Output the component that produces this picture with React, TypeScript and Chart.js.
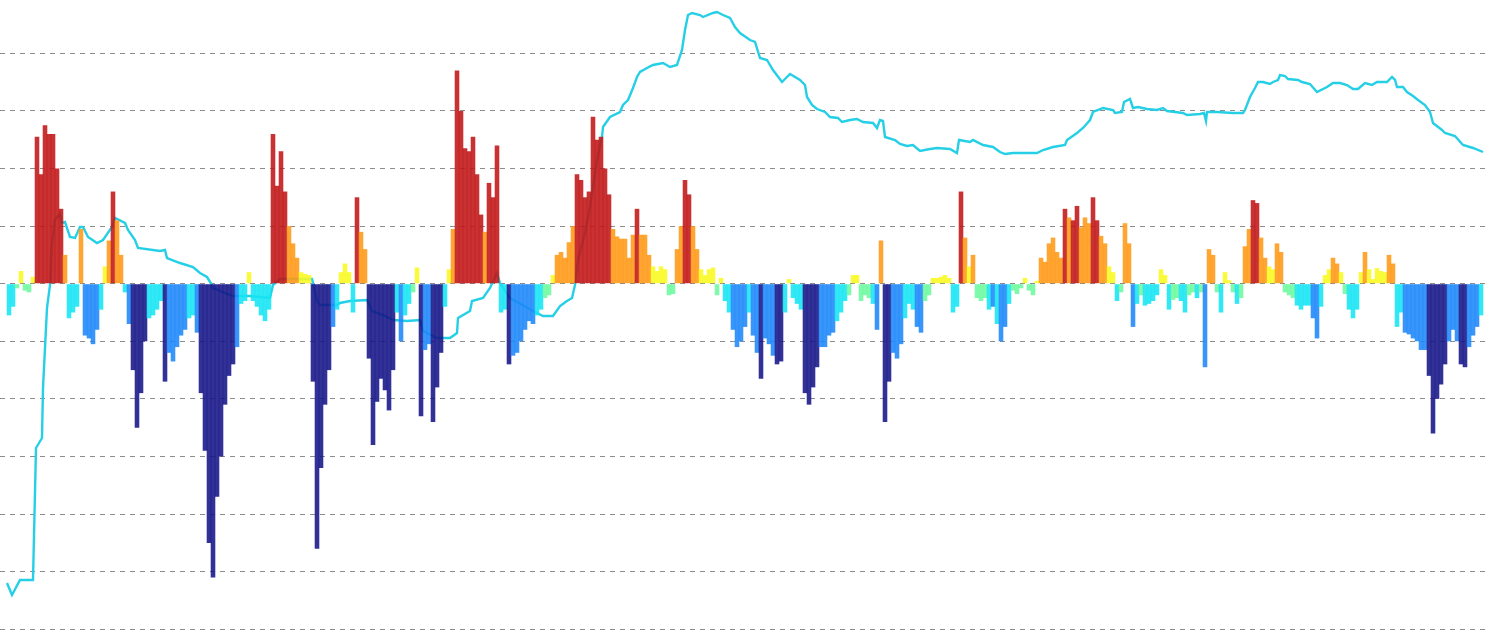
import React, { useEffect, useRef } from "react";
import { Chart, registerables } from "chart.js";

Chart.register(...registerables);

// Bar series: one value per 4-day period (grid units)
const barValues: number[] = [
  -0.55, -0.4, -0.08, 0.22, -0.12, -0.15, 0.12, 2.55, 1.9, 2.75,
  2.6, 2.6, 2.0, 1.3, 0.5, -0.6, -0.5, -0.4, 0.95, -0.9,
  -0.95, -1.05, -0.8, -0.45, 0.3, 0.75, 1.6, 1.1, 0.5, -0.15,
  -0.7, -1.5, -2.5, -1.9, -1.0, -0.6, -0.55, -0.45, -0.3, -1.7,
  -1.2, -1.35, -1.1, -0.9, -0.8, -0.6, -0.55, -0.85, -1.9, -2.9,
  -4.5, -5.1, -3.7, -3.0, -2.1, -1.6, -1.4, -1.1, -0.35, -0.3,
  0.2, -0.3, -0.4, -0.55, -0.65, -0.45, 2.6, 1.7, 2.3, 1.6,
  1.0, 0.7, 0.45, 0.2, 0.17, 0.15, -1.7, -4.6, -3.2, -2.1,
  -1.5, -0.75, -0.45, 0.2, 0.35, 0.2, -0.5, 1.5, 0.9, 0.6,
  -1.3, -2.8, -2.05, -1.65, -1.85, -2.2, -1.5, -0.5, -1.0, -0.55,
  -0.35, -0.15, 0.28, -2.3, -1.15, -1.05, -2.4, -1.8, -1.2, -0.4,
  0.25, 0.95, 3.7, 3.0, 2.35, 2.3, 2.55, 1.9, 1.2, 0.9,
  1.75, 1.5, 2.4, -0.5, -0.45, -1.4, -1.25, -1.2, -1.0, -0.8,
  -0.65, -0.7, -0.55, -0.45, -0.25, -0.2, 0.15, 0.5, 0.55, 0.45,
  0.72, 1.0, 1.9, 1.8, 1.5, 1.6, 2.9, 2.5, 2.55, 2.0,
  1.55, 0.95, 0.82, 0.78, 0.78, 0.45, 0.85, 1.3, 0.85, 0.85,
  0.5, 0.3, 0.22, 0.3, 0.25, -0.2, -0.18, 0.6, 1.0, 1.8,
  1.55, 1.0, 0.6, 0.25, 0.15, 0.25, 0.28, -0.2, 0.1, -0.3,
  -0.5, -0.8, -1.1, -1.0, -0.75, -0.5, -0.9, -1.2, -1.65, -0.95,
  -1.05, -1.25, -1.4, -1.35, -0.5, 0.08, -0.25, -0.35, -0.45, -1.9,
  -2.1, -1.8, -1.45, -1.1, -1.1, -0.9, -0.85, -0.65, -0.5, -0.3,
  -0.2, 0.15, 0.15, -0.3, -0.2, -0.25, -0.35, -0.8, 0.75, -2.4,
  -1.7, -1.2, -1.3, -1.05, -0.6, -0.35, -0.45, -0.75, -0.85, -0.3,
  -0.2, 0.1, 0.1, 0.12, 0.15, 0.1, -0.5, -0.4, 1.6, 0.8,
  0.3, 0.5, -0.25, -0.3, -0.25, -0.45, -0.4, -0.7, -1.0, -0.75,
  -0.35, -0.12, -0.18, -0.08, 0.1, -0.12, -0.2, 0.05, 0.45, 0.38,
  0.7, 0.8, 0.55, 0.45, 1.3, 1.15, 1.1, 1.35, 0.98, 1.15,
  1.05, 1.5, 1.1, 0.83, 0.7, 0.3, 0.2, -0.3, -0.15, 1.05,
  0.7, -0.75, -0.35, -0.2, -0.38, -0.35, -0.3, -0.2, 0.25, 0.15,
  -0.45, -0.28, -0.25, -0.3, -0.5, -0.2, -0.15, -0.25, -0.15, -1.45,
  0.6, 0.5, -0.15, -0.5, 0.2, 0.06, -0.15, -0.35, -0.25, 0.65,
  0.95, 1.45, 1.4, 0.8, 0.45, 0.3, 0.25, 0.7, 0.55, -0.15,
  -0.2, -0.25, -0.38, -0.45, -0.38, -0.38, -0.6, -0.95, -0.4, 0.15,
  0.25, 0.45, 0.35, 0.2, -0.18, -0.45, -0.6, -0.45, 0.2, 0.55,
  0.25, 0.08, 0.27, 0.22, 0.2, 0.5, 0.35, -0.75, -0.5, -0.85,
  -0.88, -0.95, -1.0, -1.15, -1.15, -1.6, -2.6, -2.0, -1.75, -1.4,
  -1.0, -0.8, -1.0, -1.4, -1.45, -1.1, -0.9, -0.75, -0.55,
];

// Colour class of each bar (R red, O orange, Y yellow, G light green, C cyan, B blue, N navy)
const barClasses: string = [
  "CCGYGGYRRR", "RRRROCCCOB", "BBBCYOROOC", "BNNNNCCCCN", "BBBBBCCBNN",
  "NNNNNNNBCC", "YCCCCCRRRR", "OOOYYYNNNN", "NBCYYYCROO", "NNNNNNNCBC",
  "CGYNBBNNNC", "YORRRRRRRO", "RRRCCNBBBB", "BBCCGGYOOO", "OORRRRRRRR",
  "ROOOOOOROO", "OYYYYGGOOR", "ROOYYYYGYC", "CBBBBCBBNB", "BBNNCYCCCN",
  "NNNBBBBCCC", "GYYGGGCBON", "NBBBCCCBBG", "GYYYYYCCRO", "YOGGGCBCBB",
  "CGGGYGGYOO", "OOOORORROO", "ORROOYYCGO", "OBCGCCCCYY", "CGGCCGGCGB",
  "OOGCYYGCGO", "ORROOYYOOG", "GGCCCCBBCY", "YOOYGCCCYO", "YYYYYOOCCB",
  "BBBBBNNNNN", "BBBNNBBBC",
].join("");

const classColors: Record<string, string> = {
  R: "rgba(192,22,22,0.88)",
  O: "rgba(255,153,22,0.88)",
  Y: "rgba(249,249,33,0.88)",
  G: "rgba(107,249,158,0.88)",
  C: "rgba(22,229,244,0.88)",
  B: "rgba(28,136,249,0.88)",
  N: "rgba(22,22,136,0.88)",
};

// Price line: day index and price
const lineDays: number[] = [
  0, 5, 13, 26, 29, 35, 36, 40, 43, 45, 48, 53, 55, 58, 63, 68, 73, 76, 81, 90,
  96, 105, 108, 118, 121, 128, 131, 153, 158, 160, 173, 186, 193, 200, 205, 206, 226, 243, 263, 266,
  273, 305, 310, 313, 330, 333, 343, 360, 365, 376, 386, 400, 413, 416, 430, 443, 450, 451, 463, 465,
  476, 483, 490, 493, 503, 526, 536, 546, 553, 560, 565, 568, 571, 578, 583, 590, 595, 596, 603, 613,
  616, 621, 626, 630, 633, 640, 646, 656, 663, 670, 675, 678, 681, 685, 693, 696, 706, 710, 716, 723,
  728, 733, 743, 748, 753, 760, 766, 775, 783, 793, 798, 800, 805, 810, 818, 823, 831, 835, 843, 850,
  856, 866, 870, 873, 876, 878, 888, 893, 900, 906, 913, 923, 930, 943, 950, 952, 963, 966, 976, 986,
  993, 998, 1006, 1030, 1036, 1046, 1058, 1060, 1070, 1076, 1083, 1086, 1096, 1106, 1108, 1115, 1117, 1123, 1126, 1131,
  1140, 1150, 1156, 1160, 1176, 1180, 1193, 1197, 1199, 1200, 1210, 1226, 1236, 1238, 1243, 1248, 1251, 1256, 1263, 1266,
  1271, 1273, 1278, 1281, 1291, 1295, 1303, 1310, 1320, 1326, 1333, 1340, 1346, 1351, 1358, 1365, 1370, 1380, 1385, 1388,
  1390, 1396, 1400, 1406, 1411, 1418, 1423, 1426, 1435, 1438, 1448, 1456, 1466, 1476,
];
const linePrices: number[] = [
  50, 38, 53, 53, 185, 195, 245, 325, 348, 390, 413, 419, 410, 411, 396, 395, 406, 406, 396, 390,
  393, 406, 415, 410, 403, 393, 385, 382, 383, 375, 370, 366, 360, 356, 348, 345, 337, 337, 335, 348,
  354, 354, 332, 328, 328, 330, 332, 333, 322, 318, 313, 312, 313, 302, 295, 295, 300, 315, 322, 332,
  335, 345, 360, 350, 335, 322, 317, 317, 327, 332, 335, 348, 373, 400, 426, 473, 496, 506, 516, 521,
  528, 533, 545, 556, 561, 565, 568, 570, 566, 568, 583, 603, 618, 620, 618, 616, 620, 621, 618, 615,
  606, 600, 593, 591, 575, 573, 563, 551, 559, 553, 548, 536, 528, 524, 521, 516, 515, 511, 513, 514,
  511, 510, 505, 513, 512, 496, 493, 489, 487, 488, 482, 484, 485, 484, 480, 493, 491, 493, 488, 486,
  481, 479, 480, 480, 483, 486, 488, 493, 500, 505, 513, 521, 525, 523, 520, 521, 531, 534, 525, 526,
  524, 523, 525, 522, 520, 518, 519, 520, 512, 521, 521, 520, 520, 523, 536, 545, 551, 551, 549, 551,
  553, 558, 557, 554, 553, 551, 549, 541, 546, 550, 550, 548, 544, 544, 550, 548, 551, 551, 556, 553,
  546, 546, 541, 537, 533, 528, 521, 510, 503, 500, 497, 488, 485, 481,
];

const BAR_DAYS = 4;
const GRID_TICKS: number[] = [-6, -5, -4, -3, -2, -1, 0, 1, 2, 3, 4];

export default function App() {
  const canvasRef = useRef<HTMLCanvasElement | null>(null);

  useEffect(() => {
    document.body.style.margin = "0";
    const canvas = canvasRef.current;
    if (!canvas) return;
    const chart = new Chart(canvas, {
      type: "bar",
      data: {
        datasets: [
          {
            type: "bar",
            data: barValues.map((v, i) => ({ x: i * BAR_DAYS + BAR_DAYS / 2, y: v })),
            backgroundColor: barValues.map((_, i) => classColors[barClasses[i]]),
            borderWidth: 0,
            barThickness: 4.6,
            grouped: false,
            inflateAmount: 0,
            yAxisID: "y",
            order: 0,
          } as any,
          {
            type: "line",
            data: lineDays.map((d, i) => ({ x: d, y: linePrices[i] })),
            borderColor: "#25cfe6",
            borderWidth: 2.4,
            pointRadius: 0,
            tension: 0,
            fill: false,
            yAxisID: "y2",
            order: 1,
          } as any,
        ],
      },
      options: {
        responsive: true,
        maintainAspectRatio: false,
        animation: false,
        layout: { padding: 0, autoPadding: false } as any,
        plugins: { legend: { display: false }, tooltip: { enabled: false } },
        scales: {
          x: { type: "linear", min: -7, max: 1483, display: false, offset: false },
          y: {
            min: -6.064,
            max: 4.925,
            afterBuildTicks: (axis: any) => {
              axis.ticks = GRID_TICKS.map((v) => ({ value: v }));
            },
            ticks: { display: false },
            grid: { color: "rgba(120,120,120,0.85)", lineWidth: 1, drawTicks: false },
            border: { display: false, dash: [5, 5] },
          },
          y2: { display: false, min: 0, max: 633 },
        },
      } as any,
    });
    return () => chart.destroy();
  }, []);

  return (
    <div style={{ position: "absolute", left: 0, top: 0, width: 1490, height: 633 }}>
      <canvas ref={canvasRef} />
    </div>
  );
}
